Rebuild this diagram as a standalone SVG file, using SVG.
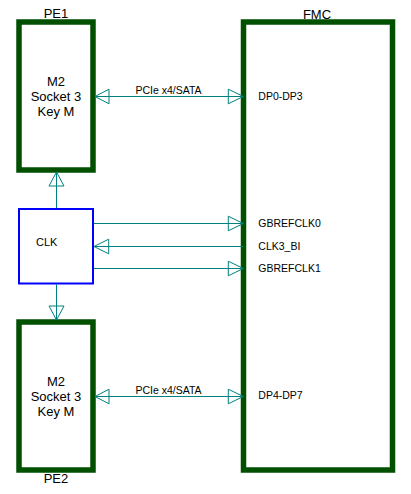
<svg xmlns="http://www.w3.org/2000/svg" width="411" height="494" viewBox="0 0 411 494">
<style>
.box{fill:none;stroke:#005000;stroke-width:5.5}
.clk{fill:none;stroke:#0000FF;stroke-width:2}
.ln{fill:none;stroke:#008080;stroke-width:1}
.t13{font-family:"Liberation Sans",Arial,sans-serif;font-size:13px;fill:#000}
.t11{font-family:"Liberation Sans",Arial,sans-serif;font-size:11px;fill:#000}
.t10{font-family:"Liberation Sans",Arial,sans-serif;font-size:10.5px;fill:#000}
</style>
<rect width="411" height="494" fill="#fff"/>
<g id="PE1">
<rect class="box" x="19" y="22" width="74" height="148"/>
<text class="t13" x="56" y="18.3" text-anchor="middle">PE1</text>
<text class="t13" x="56" y="85.5" text-anchor="middle">M2</text>
<text class="t13" x="56" y="101" text-anchor="middle">Socket 3</text>
<text class="t13" x="56" y="116.3" text-anchor="middle">Key M</text>
</g>
<g id="PE2">
<rect class="box" x="19" y="322" width="74" height="148"/>
<text class="t13" x="56" y="483" text-anchor="middle">PE2</text>
<text class="t13" x="56" y="385.5" text-anchor="middle">M2</text>
<text class="t13" x="56" y="401" text-anchor="middle">Socket 3</text>
<text class="t13" x="56" y="416.3" text-anchor="middle">Key M</text>
</g>
<g id="CLK">
<rect class="clk" x="19" y="209" width="74" height="74.5"/>
<text class="t11" x="36" y="246">CLK</text>
</g>
<g id="FMC">
<rect class="box" x="243.5" y="22" width="149" height="448"/>
<text class="t13" x="317" y="18.5" text-anchor="middle">FMC</text>
<text class="t10" x="258.3" y="99.7">DP0-DP3</text>
<text class="t10" x="258.3" y="227">GBREFCLK0</text>
<text class="t10" x="258.3" y="249.7">CLK3_BI</text>
<text class="t10" x="258.3" y="272">GBREFCLK1</text>
<text class="t10" x="258.3" y="398.7">DP4-DP7</text>
</g>
<g id="connectors">
<path class="ln" d="M95,96.5 H243.3"/>
<path class="ln" d="M95,96.5 L109,89.2 L109,103.8 Z"/>
<path class="ln" d="M243.3,96.5 L228.3,89.2 L228.3,103.8 Z"/>
<text class="t10" x="168.5" y="93.7" text-anchor="middle">PCIe x4/SATA</text>
<path class="ln" d="M95,396.5 H243.3"/>
<path class="ln" d="M95,396.5 L109,389.2 L109,403.8 Z"/>
<path class="ln" d="M243.3,396.5 L228.3,389.2 L228.3,403.8 Z"/>
<text class="t10" x="168.5" y="393.7" text-anchor="middle">PCIe x4/SATA</text>
<path class="ln" d="M56.5,208 V172"/>
<path class="ln" d="M56.5,172 L49,186 L64,186 Z"/>
<path class="ln" d="M56.5,284.5 V320"/>
<path class="ln" d="M56.5,320 L49,306 L64,306 Z"/>
<path class="ln" d="M94,223.5 H243.3"/>
<path class="ln" d="M243.3,223.5 L228.3,216.2 L228.3,230.8 Z"/>
<path class="ln" d="M243.3,246.5 H94"/>
<path class="ln" d="M94,246.5 L108.7,239.2 L108.7,253.8 Z"/>
<path class="ln" d="M94,268.5 H243.3"/>
<path class="ln" d="M243.3,268.5 L228.3,261.2 L228.3,275.8 Z"/>
</g>
</svg>
